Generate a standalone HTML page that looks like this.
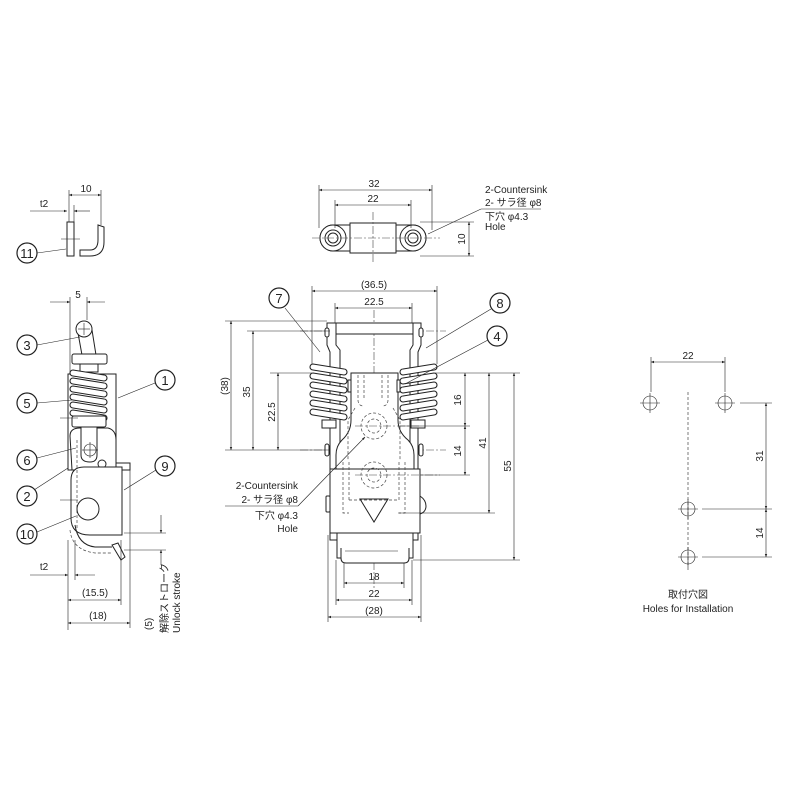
<!DOCTYPE html>
<html><head><meta charset="utf-8"><style>
html,body{margin:0;padding:0;background:#fff;}
svg{display:block;}
text{font-family:"Liberation Sans","Noto Sans CJK JP",sans-serif;fill:#222;font-size:10px;}
.l{stroke:#222;stroke-width:1;fill:none;}
.t{stroke:#222;stroke-width:0.6;fill:none;}
.w{stroke:#222;stroke-width:1;fill:#fff;}
.k{stroke:#222;stroke-width:1.1;fill:#fff;}
.c{stroke:#444;stroke-width:0.6;fill:none;stroke-dasharray:8 2 2 2;}
.d{stroke:#444;stroke-width:0.7;fill:none;stroke-dasharray:3 2;}
.b{stroke:#222;stroke-width:1.2;fill:#fff;}
.bt{font-size:13px;text-anchor:middle;}
</style></head><body>
<svg width="800" height="800" viewBox="0 0 800 800" xmlns="http://www.w3.org/2000/svg">
<defs>
<marker id="a" viewBox="0 0 10 10" refX="10" refY="5" markerWidth="7" markerHeight="5" orient="auto-start-reverse"><path d="M0,1L10,5L0,9z" fill="#222"/></marker>
<path id="cl" d="M1,0 L32,5 A3,3 0 0 1 32,11 L1,6 A3,3 0 0 1 1,0 Z"/>
<path id="cr" d="M1,5 L32,0 A3,3 0 0 1 32,6 L1,11 A3,3 0 0 1 1,5 Z"/>
</defs>

<!-- ===== Part 11 (top left) ===== -->
<g>
<rect class="w" x="67" y="222" width="7" height="34"/>
<path class="l" d="M80,250 L90,250 Q98,250 98,240 L98,225 L104,227 L104,242 Q104,256 90,256 L80,256 Z" fill="#fff"/>
<line class="t" x1="61" y1="239" x2="80" y2="239"/>
<line class="t" x1="69" y1="190" x2="69" y2="222"/>
<line class="t" x1="101" y1="190" x2="101" y2="225"/>
<line class="t" x1="69" y1="195" x2="101" y2="195" marker-start="url(#a)" marker-end="url(#a)"/>
<text x="86" y="192" text-anchor="middle">10</text>
<line class="t" x1="74" y1="205" x2="74" y2="222"/>
<line class="t" x1="30" y1="211" x2="67" y2="211" marker-end="url(#a)"/>
<line class="t" x1="74" y1="211" x2="90" y2="211" marker-start="url(#a)"/>
<text x="44" y="207" text-anchor="middle">t2</text>
<line class="t" x1="37" y1="253" x2="66" y2="249"/>
<circle class="b" cx="27" cy="253" r="10"/><text class="bt" x="27" y="258">11</text>
</g>

<!-- ===== Side view ===== -->
<g>
<line class="t" x1="70" y1="297" x2="70" y2="374"/>
<line class="t" x1="87" y1="297" x2="87" y2="320"/>
<line class="t" x1="50" y1="302" x2="70" y2="302" marker-end="url(#a)"/>
<line class="t" x1="87" y1="302" x2="105" y2="302" marker-start="url(#a)"/>
<text x="78" y="298" text-anchor="middle">5</text>
<rect class="l" x="68" y="374" width="48" height="96" fill="#fff"/>
<path class="w" d="M78,333 L82,355 L96,355 L92,330 Z"/>
<circle class="w" cx="84" cy="329" r="8"/>
<line class="t" x1="78" y1="329" x2="90" y2="329"/><line class="t" x1="84" y1="323" x2="84" y2="335"/>
<rect class="w" x="72" y="354" width="35" height="10" rx="2"/>
<rect class="w" x="80" y="364" width="18" height="8"/>
<g class="k">
<use href="#cl" x="72" y="370"/><use href="#cl" x="72" y="378"/><use href="#cl" x="72" y="386"/>
<use href="#cl" x="72" y="394"/><use href="#cl" x="72" y="402"/><use href="#cl" x="72" y="410"/>
</g>
<rect class="w" x="72" y="416" width="34" height="11" rx="2"/>
<path class="w" d="M70,436 Q70,428 80,428 L108,428 Q116,430 116,440 L116,470 L72,470 Z"/>
<path class="w" d="M81,427 L81,455 Q81,462 90,462 Q97,462 97,455 L97,427 Z"/>
<circle class="t" cx="90" cy="450" r="6"/><line class="t" x1="82" y1="450" x2="98" y2="450"/><line class="t" x1="90" y1="442" x2="90" y2="458"/>
<circle class="l" cx="102" cy="464" r="4"/>
<rect class="w" x="116" y="463" width="14" height="7"/>
<path class="w" d="M71,480 Q71,467 84,467 L122,467 L122,535 L90,535 Q71,535 71,518 Z"/>
<path class="l" d="M75,525 Q78,545 95,547 L112,547"/>
<path class="d" d="M70,530 Q72,550 95,553 L112,553"/>
<line class="d" x1="77" y1="440" x2="77" y2="530"/>
<path class="w" d="M112,545 L121,560 L125,557 L118,543 Z"/>
<circle class="w" cx="88" cy="509" r="11"/>
<line class="t" x1="60" y1="418" x2="78" y2="418"/>
<line class="t" x1="60" y1="500" x2="78" y2="500"/>
<line class="t" x1="68" y1="540" x2="68" y2="630"/>
<line class="t" x1="75" y1="540" x2="75" y2="580"/>
<line class="t" x1="121" y1="540" x2="121" y2="605"/>
<line class="t" x1="130" y1="470" x2="130" y2="628"/>
<line class="t" x1="30" y1="575" x2="68" y2="575" marker-end="url(#a)"/>
<line class="t" x1="75" y1="575" x2="95" y2="575" marker-start="url(#a)"/>
<text x="44" y="570" text-anchor="middle">t2</text>
<line class="t" x1="68" y1="600" x2="121" y2="600" marker-start="url(#a)" marker-end="url(#a)"/>
<text x="95" y="596" text-anchor="middle">(15.5)</text>
<line class="t" x1="68" y1="623" x2="130" y2="623" marker-start="url(#a)" marker-end="url(#a)"/>
<text x="98" y="619" text-anchor="middle">(18)</text>
<line class="t" x1="124" y1="533" x2="166" y2="533"/>
<line class="t" x1="124" y1="550" x2="166" y2="550"/>
<line class="t" x1="161" y1="515" x2="161" y2="533" marker-end="url(#a)"/>
<line class="t" x1="161" y1="565" x2="161" y2="550" marker-end="url(#a)"/>
<text transform="translate(152,630) rotate(-90)" font-size="9">(5)</text>
<text transform="translate(168,633) rotate(-90)" font-size="11">解除ストローク</text>
<text transform="translate(180,633) rotate(-90)" font-size="10">Unlock stroke</text>
<line class="t" x1="37" y1="345" x2="80" y2="337"/>
<circle class="b" cx="27" cy="345" r="10"/><text class="bt" x="27" y="350">3</text>
<line class="t" x1="37" y1="403" x2="72" y2="400"/>
<circle class="b" cx="27" cy="403" r="10"/><text class="bt" x="27" y="408">5</text>
<line class="t" x1="37" y1="458" x2="76" y2="448"/>
<circle class="b" cx="27" cy="460" r="10"/><text class="bt" x="27" y="465">6</text>
<line class="t" x1="34" y1="490" x2="68" y2="468"/>
<circle class="b" cx="27" cy="496" r="10"/><text class="bt" x="27" y="501">2</text>
<line class="t" x1="37" y1="532" x2="76" y2="516"/>
<circle class="b" cx="27" cy="534" r="10"/><text class="bt" x="27" y="539">10</text>
<line class="t" x1="155" y1="383" x2="118" y2="398"/>
<circle class="b" cx="165" cy="380" r="10"/><text class="bt" x="165" y="385">1</text>
<line class="t" x1="156" y1="470" x2="124" y2="490"/>
<circle class="b" cx="165" cy="466" r="10"/><text class="bt" x="165" y="471">9</text>
</g>

<!-- ===== Top plate view ===== -->
<g>
<path class="w" d="M333,225 L413,225 A13,13 0 0 1 413,251 L333,251 A13,13 0 0 1 333,225 Z"/>
<rect class="w" x="350" y="223" width="46" height="30"/>
<circle class="w" cx="333" cy="238" r="13"/><circle class="l" cx="333" cy="238" r="8"/><circle class="l" cx="333" cy="238" r="5"/>
<circle class="w" cx="413" cy="238" r="13"/><circle class="l" cx="413" cy="238" r="8"/><circle class="l" cx="413" cy="238" r="5"/>
<line class="c" x1="312" y1="238" x2="440" y2="238"/>
<line class="c" x1="373" y1="212" x2="373" y2="262"/>
<line class="t" x1="319" y1="185" x2="319" y2="228"/>
<line class="t" x1="432" y1="185" x2="432" y2="230"/>
<line class="t" x1="319" y1="190" x2="432" y2="190" marker-start="url(#a)" marker-end="url(#a)"/>
<text x="374" y="187" text-anchor="middle">32</text>
<line class="t" x1="335" y1="200" x2="335" y2="228"/>
<line class="t" x1="411" y1="200" x2="411" y2="228"/>
<line class="t" x1="335" y1="205" x2="411" y2="205" marker-start="url(#a)" marker-end="url(#a)"/>
<text x="373" y="202" text-anchor="middle">22</text>
<line class="t" x1="420" y1="222" x2="474" y2="222"/>
<line class="t" x1="420" y1="256" x2="474" y2="256"/>
<line class="t" x1="469" y1="222" x2="469" y2="256" marker-start="url(#a)" marker-end="url(#a)"/>
<text transform="translate(465,239) rotate(-90)" text-anchor="middle">10</text>
<line class="t" x1="428" y1="234" x2="481" y2="209"/>
<line class="t" x1="481" y1="209" x2="541" y2="209"/>
<text x="485" y="193">2-Countersink</text>
<text x="485" y="206">2- サラ径 φ8</text>
<text x="485" y="220">下穴 φ4.3</text>
<text x="485" y="230">Hole</text>
</g>

<!-- ===== Front view ===== -->
<g>
<line class="c" x1="374" y1="310" x2="374" y2="590"/>
<line class="c" x1="300" y1="331" x2="446" y2="331"/>
<line class="c" x1="300" y1="450" x2="446" y2="450"/>
<rect class="w" x="332" y="323" width="84" height="11"/>
<path class="w" d="M327,323 L336,323 L336,345 L340,350 L340,540 L330,540 L330,352 L327,345 Z"/>
<path class="w" d="M413,323 L421,323 L421,345 L418,352 L418,540 L410,540 L410,350 L413,345 Z"/>
<rect class="w" x="325" y="328" width="4" height="9" rx="2"/>
<rect class="w" x="419" y="328" width="4" height="9" rx="2"/>
<rect class="w" x="325" y="444" width="4" height="12" rx="2"/>
<rect class="w" x="419" y="444" width="4" height="12" rx="2"/>
<g class="k">
<use href="#cl" x="312" y="364"/><use href="#cl" x="312" y="373"/><use href="#cl" x="312" y="382"/>
<use href="#cl" x="312" y="391"/><use href="#cl" x="312" y="400"/><use href="#cl" x="312" y="409"/>
<use href="#cr" x="402" y="364"/><use href="#cr" x="402" y="373"/><use href="#cr" x="402" y="382"/>
<use href="#cr" x="402" y="391"/><use href="#cr" x="402" y="400"/><use href="#cr" x="402" y="409"/>
</g>
<rect class="w" x="322" y="420" width="14" height="8"/>
<rect class="w" x="411" y="420" width="14" height="8"/>
<path class="w" d="M351,373 L398,373 L398,420 Q398,432 408,440 Q414,446 414,455 L414,470 L336,470 L336,455 Q336,446 342,440 Q351,432 351,420 Z"/>
<rect class="w" x="348" y="380" width="3" height="12"/>
<rect class="w" x="397" y="380" width="3" height="12"/>
<path class="d" d="M358,375 L358,400 Q358,406 364,406 M388,375 L388,400 Q388,406 382,406 M364,375 L364,398 M382,375 L382,398"/>
<path class="d" d="M355,408 L348,420 L348,460 M393,408 L400,420 L400,460"/>
<circle class="d" cx="374" cy="426" r="13"/><circle class="d" cx="374" cy="426" r="7"/>
<line class="c" x1="355" y1="426" x2="420" y2="426"/>
<rect class="w" x="330" y="469" width="90" height="64"/>
<rect class="w" x="326" y="496" width="4" height="16" rx="1"/>
<path class="w" d="M420,496 Q426,500 426,506 Q426,512 420,514 Z"/>
<path class="d" d="M343,462 L343,513 L349,513 M405,462 L405,513 L399,513 M349,462 L349,500 M399,462 L399,500 M349,500 L399,500"/>
<circle class="d" cx="374" cy="475" r="13"/><circle class="d" cx="374" cy="475" r="7"/>
<line class="c" x1="355" y1="475" x2="440" y2="475"/>
<path class="l" d="M360,499 L388,499 L374,522 Z"/>
<line class="t" x1="398" y1="513" x2="495" y2="513"/>
<path class="w" d="M337,533 L413,533 L413,558 L337,558 Z"/>
<path class="w" d="M341,548 L341,558 Q341,563 346,563 L404,563 Q409,563 409,558 L409,548"/>
<line class="t" x1="345" y1="551" x2="398" y2="551"/>
<line class="t" x1="225" y1="321" x2="327" y2="321"/>
<line class="t" x1="247" y1="331" x2="330" y2="331"/>
<line class="t" x1="270" y1="373" x2="312" y2="373"/>
<line class="t" x1="225" y1="450" x2="330" y2="450"/>
<line class="t" x1="231" y1="321" x2="231" y2="450" marker-start="url(#a)" marker-end="url(#a)"/>
<text transform="translate(228,386) rotate(-90)" text-anchor="middle">(38)</text>
<line class="t" x1="253" y1="331" x2="253" y2="450" marker-start="url(#a)" marker-end="url(#a)"/>
<text transform="translate(250,392) rotate(-90)" text-anchor="middle">35</text>
<line class="t" x1="278" y1="373" x2="278" y2="450" marker-start="url(#a)" marker-end="url(#a)"/>
<text transform="translate(275,412) rotate(-90)" text-anchor="middle">22.5</text>
<line class="t" x1="312" y1="286" x2="312" y2="364"/>
<line class="t" x1="437" y1="286" x2="437" y2="364"/>
<line class="t" x1="312" y1="291" x2="437" y2="291" marker-start="url(#a)" marker-end="url(#a)"/>
<text x="374" y="288" text-anchor="middle">(36.5)</text>
<line class="t" x1="335" y1="303" x2="335" y2="323"/>
<line class="t" x1="412" y1="303" x2="412" y2="323"/>
<line class="t" x1="335" y1="308" x2="412" y2="308" marker-start="url(#a)" marker-end="url(#a)"/>
<text x="374" y="305" text-anchor="middle">22.5</text>
<line class="t" x1="435" y1="373" x2="520" y2="373"/>
<line class="t" x1="400" y1="426" x2="470" y2="426"/>
<line class="t" x1="420" y1="475" x2="470" y2="475"/>
<line class="t" x1="413" y1="560" x2="520" y2="560"/>
<line class="t" x1="465" y1="373" x2="465" y2="426" marker-start="url(#a)" marker-end="url(#a)"/>
<text transform="translate(461,400) rotate(-90)" text-anchor="middle">16</text>
<line class="t" x1="465" y1="426" x2="465" y2="475" marker-start="url(#a)" marker-end="url(#a)"/>
<text transform="translate(461,451) rotate(-90)" text-anchor="middle">14</text>
<line class="t" x1="489" y1="373" x2="489" y2="513" marker-start="url(#a)" marker-end="url(#a)"/>
<text transform="translate(486,443) rotate(-90)" text-anchor="middle">41</text>
<line class="t" x1="514" y1="373" x2="514" y2="560" marker-start="url(#a)" marker-end="url(#a)"/>
<text transform="translate(511,466) rotate(-90)" text-anchor="middle">55</text>
<line class="t" x1="344" y1="563" x2="344" y2="588"/>
<line class="t" x1="404" y1="563" x2="404" y2="588"/>
<line class="t" x1="336" y1="560" x2="336" y2="605"/>
<line class="t" x1="412" y1="560" x2="412" y2="605"/>
<line class="t" x1="328" y1="535" x2="328" y2="622"/>
<line class="t" x1="421" y1="535" x2="421" y2="622"/>
<line class="t" x1="344" y1="583" x2="404" y2="583" marker-start="url(#a)" marker-end="url(#a)"/>
<text x="374" y="580" text-anchor="middle">18</text>
<line class="t" x1="336" y1="600" x2="412" y2="600" marker-start="url(#a)" marker-end="url(#a)"/>
<text x="374" y="597" text-anchor="middle">22</text>
<line class="t" x1="328" y1="617" x2="421" y2="617" marker-start="url(#a)" marker-end="url(#a)"/>
<text x="374" y="614" text-anchor="middle">(28)</text>
<line class="t" x1="225" y1="506" x2="298" y2="506"/>
<line class="t" x1="298" y1="506" x2="365" y2="437" marker-end="url(#a)"/>
<text x="298" y="489" text-anchor="end">2-Countersink</text>
<text x="298" y="503" text-anchor="end">2- サラ径 φ8</text>
<text x="298" y="519" text-anchor="end">下穴 φ4.3</text>
<text x="298" y="532" text-anchor="end">Hole</text>
<line class="t" x1="285" y1="308" x2="320" y2="352"/>
<circle class="b" cx="279" cy="298" r="10"/><text class="bt" x="279" y="303">7</text>
<line class="t" x1="491" y1="309" x2="426" y2="348"/>
<circle class="b" cx="500" cy="303" r="10"/><text class="bt" x="500" y="308">8</text>
<line class="t" x1="488" y1="340" x2="405" y2="384"/>
<circle class="b" cx="497" cy="336" r="10"/><text class="bt" x="497" y="341">4</text>
</g>

<!-- ===== Holes for installation ===== -->
<g>
<line class="d" x1="688" y1="392" x2="688" y2="570"/>
<g class="t">
<circle cx="650" cy="403" r="7"/><line x1="640" y1="403" x2="660" y2="403"/><line x1="650" y1="393" x2="650" y2="413"/>
<circle cx="725" cy="403" r="7"/><line x1="715" y1="403" x2="735" y2="403"/><line x1="725" y1="393" x2="725" y2="413"/>
<circle cx="688" cy="509" r="7"/><line x1="678" y1="509" x2="698" y2="509"/><line x1="688" y1="499" x2="688" y2="519"/>
<circle cx="688" cy="557" r="7"/><line x1="678" y1="557" x2="698" y2="557"/><line x1="688" y1="547" x2="688" y2="567"/>
</g>
<line class="t" x1="651" y1="357" x2="651" y2="392"/>
<line class="t" x1="725" y1="357" x2="725" y2="392"/>
<line class="t" x1="651" y1="362" x2="725" y2="362" marker-start="url(#a)" marker-end="url(#a)"/>
<text x="688" y="359" text-anchor="middle">22</text>
<line class="t" x1="740" y1="403" x2="772" y2="403"/>
<line class="t" x1="702" y1="509" x2="772" y2="509"/>
<line class="t" x1="702" y1="557" x2="772" y2="557"/>
<line class="t" x1="766" y1="403" x2="766" y2="509" marker-start="url(#a)" marker-end="url(#a)"/>
<text transform="translate(763,456) rotate(-90)" text-anchor="middle">31</text>
<line class="t" x1="766" y1="509" x2="766" y2="557" marker-start="url(#a)" marker-end="url(#a)"/>
<text transform="translate(763,533) rotate(-90)" text-anchor="middle">14</text>
<text x="688" y="598" text-anchor="middle" font-size="11">取付穴図</text>
<text x="688" y="612" text-anchor="middle">Holes for Installation</text>
</g>
</svg>
</body></html>
